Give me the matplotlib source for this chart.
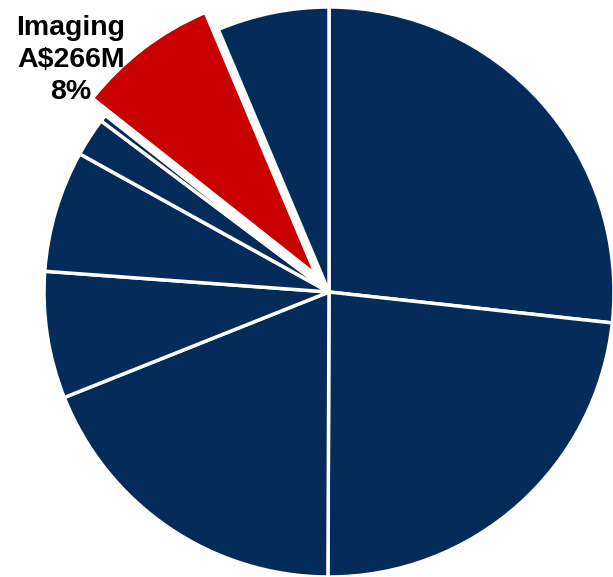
import matplotlib
matplotlib.use("Agg")
import matplotlib.pyplot as plt

segments = ["S1", "S2", "S3", "S4", "S5", "S6", "S7", "Imaging", "S9"]
values = [888, 775, 628, 239, 229, 73, 13, 266, 211]
label_text = "Imaging\nA$266M\n8%"

navy = "#052B5A"
red = "#C80000"
colors = [red if s == "Imaging" else navy for s in segments]
explode = [0.075 if s == "Imaging" else 0 for s in segments]

fig = plt.figure(figsize=(6.13, 5.77), dpi=100)
ax = fig.add_axes([0, 0, 1, 1])
ax.pie(values, colors=colors, explode=explode, startangle=90, counterclock=False,
       wedgeprops=dict(edgecolor="white", linewidth=2.5))
r = 285.0
ax.set_xlim(-329 / r, (613 - 329) / r)
ax.set_ylim(-(577 - 292) / r, 292 / r)
ax.set_aspect("equal")
ax.axis("off")

fig.text(71 / 613, 1 - 60 / 577, label_text, ha="center", va="center",
         fontsize=20.5, fontweight="bold", family=["Liberation Sans", "DejaVu Sans"],
         linespacing=1.3)

fig.savefig("out.png", dpi=100)
